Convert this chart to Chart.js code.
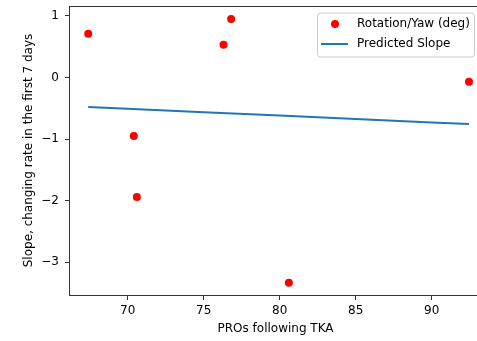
<!DOCTYPE html>
<html>
<head>
<meta charset="utf-8">
<script src="https://cdn.jsdelivr.net/npm/chart.js@4.4.0/dist/chart.umd.min.js"></script>
<style>
html,body{margin:0;padding:0;background:#fff;overflow:hidden;}
#wrap{width:477px;height:341px;overflow:hidden;position:relative;}
canvas{display:block;}
</style>
</head>
<body>
<div id="wrap"><canvas id="c" width="490" height="341"></canvas></div>
<script>
// Data
const scatterX = [67.4, 70.4, 70.6, 76.3, 76.8, 80.6, 92.45];
const scatterY = [0.71, -0.95, -1.94, 0.53, 0.95, -3.33, -0.07];
const lineX = [67.4, 70, 75, 80, 85, 90, 92.45];
const lineY = [-0.48, -0.509, -0.564, -0.619, -0.674, -0.729, -0.756];
const xTicks = [70, 75, 80, 85, 90];
const yTicks = [-3, -2, -1, 0, 1];
const seriesLabels = ['Rotation/Yaw (deg)', 'Predicted Slope'];
const xTitle = 'PROs following TKA';
const yTitle = 'Slope, changing rate in the first 7 days';

const FONT = 'DejaVu Sans';
const AX = '#333';

const framePlugin = {
  id: 'frame',
  afterDatasetsDraw(chart) {
    const {ctx, chartArea: a} = chart;
    ctx.save();
    ctx.strokeStyle = AX;
    ctx.lineWidth = 1;
    ctx.strokeRect(Math.round(a.left) - 0.5, Math.round(a.top) + 0.5, a.right - a.left, Math.round(a.bottom) - Math.round(a.top));
    ctx.restore();
  }
};

const legendPlugin = {
  id: 'mplLegend',
  afterDraw(chart) {
    const ctx = chart.ctx;
    const a = chart.chartArea;
    const right = a.right - 7, top = a.top + 6.5, w = 157, h = 44;
    const left = right - w;
    ctx.save();
    ctx.fillStyle = 'rgba(255,255,255,0.8)';
    ctx.strokeStyle = '#cccccc';
    ctx.lineWidth = 1;
    ctx.beginPath();
    ctx.roundRect(left + 0.5, top + 0.5, w, h, 3);
    ctx.fill();
    ctx.stroke();
    const ds = chart.data.datasets;
    ctx.font = '12px "' + FONT + '"';
    ctx.fillStyle = '#000';
    ctx.textBaseline = 'middle';
    const y1 = top + 11.5, y2 = top + 31.5;
    ctx.beginPath();
    ctx.fillStyle = ds[0].backgroundColor;
    ctx.arc(left + 18, y1, 4, 0, Math.PI * 2);
    ctx.fill();
    ctx.fillStyle = '#000';
    ctx.fillText(ds[0].label, left + 40, y1);
    ctx.strokeStyle = ds[1].borderColor;
    ctx.lineWidth = 2;
    ctx.beginPath();
    ctx.moveTo(left + 4, y2);
    ctx.lineTo(left + 31, y2);
    ctx.stroke();
    ctx.fillText(ds[1].label, left + 40, y2);
    ctx.restore();
  }
};

const fmt = v => (v < 0 ? '\u2212' + Math.abs(v) : String(v));

new Chart(document.getElementById('c'), {
  type: 'scatter',
  data: {
    datasets: [
      {
        label: seriesLabels[0],
        data: scatterX.map((x, i) => ({x, y: scatterY[i]})),
        backgroundColor: '#ff0000',
        borderColor: '#ff0000',
        pointRadius: 4,
        pointBorderWidth: 0,
        showLine: false
      },
      {
        label: seriesLabels[1],
        data: lineX.map((x, i) => ({x, y: lineY[i]})),
        borderColor: '#1f77b4',
        backgroundColor: '#1f77b4',
        borderWidth: 2,
        pointRadius: 0,
        showLine: true,
        tension: 0
      }
    ]
  },
  options: {
    responsive: false,
    animation: false,
    layout: {padding: {top: 6, right: 9, left: 0, bottom: 0}},
    plugins: {legend: {display: false}, tooltip: {enabled: false}},
    scales: {
      x: {
        type: 'linear',
        min: 66.2, max: 93.24,
        afterBuildTicks: s => { s.ticks = xTicks.map(v => ({value: v})); },
        afterFit: s => { s.height = 46; s.paddingLeft = 0; s.paddingRight = 0; },
        border: {display: false},
        grid: {drawOnChartArea: false, drawTicks: true, tickLength: 5, color: AX, lineWidth: 1},
        ticks: {color: '#000', font: {family: FONT, size: 12}, padding: 4, maxRotation: 0, callback: v => fmt(v)},
        title: {display: true, text: xTitle, color: '#000', font: {family: FONT, size: 12}, padding: {top: 0, bottom: 5}}
      },
      y: {
        type: 'linear',
        min: -3.53, max: 1.16,
        afterBuildTicks: s => { s.ticks = yTicks.map(v => ({value: v})); },
        afterFit: s => { s.width = 70; s.paddingTop = 0; s.paddingBottom = 0; },
        border: {display: false},
        grid: {drawOnChartArea: false, drawTicks: true, tickLength: 5, color: AX, lineWidth: 1},
        ticks: {color: '#000', font: {family: FONT, size: 12}, padding: 6, callback: v => fmt(v)},
        title: {display: true, text: yTitle, color: '#000', font: {family: FONT, size: 12}, padding: {top: 22, bottom: 0}}
      }
    }
  },
  plugins: [framePlugin, legendPlugin]
});
</script>
</body>
</html>
